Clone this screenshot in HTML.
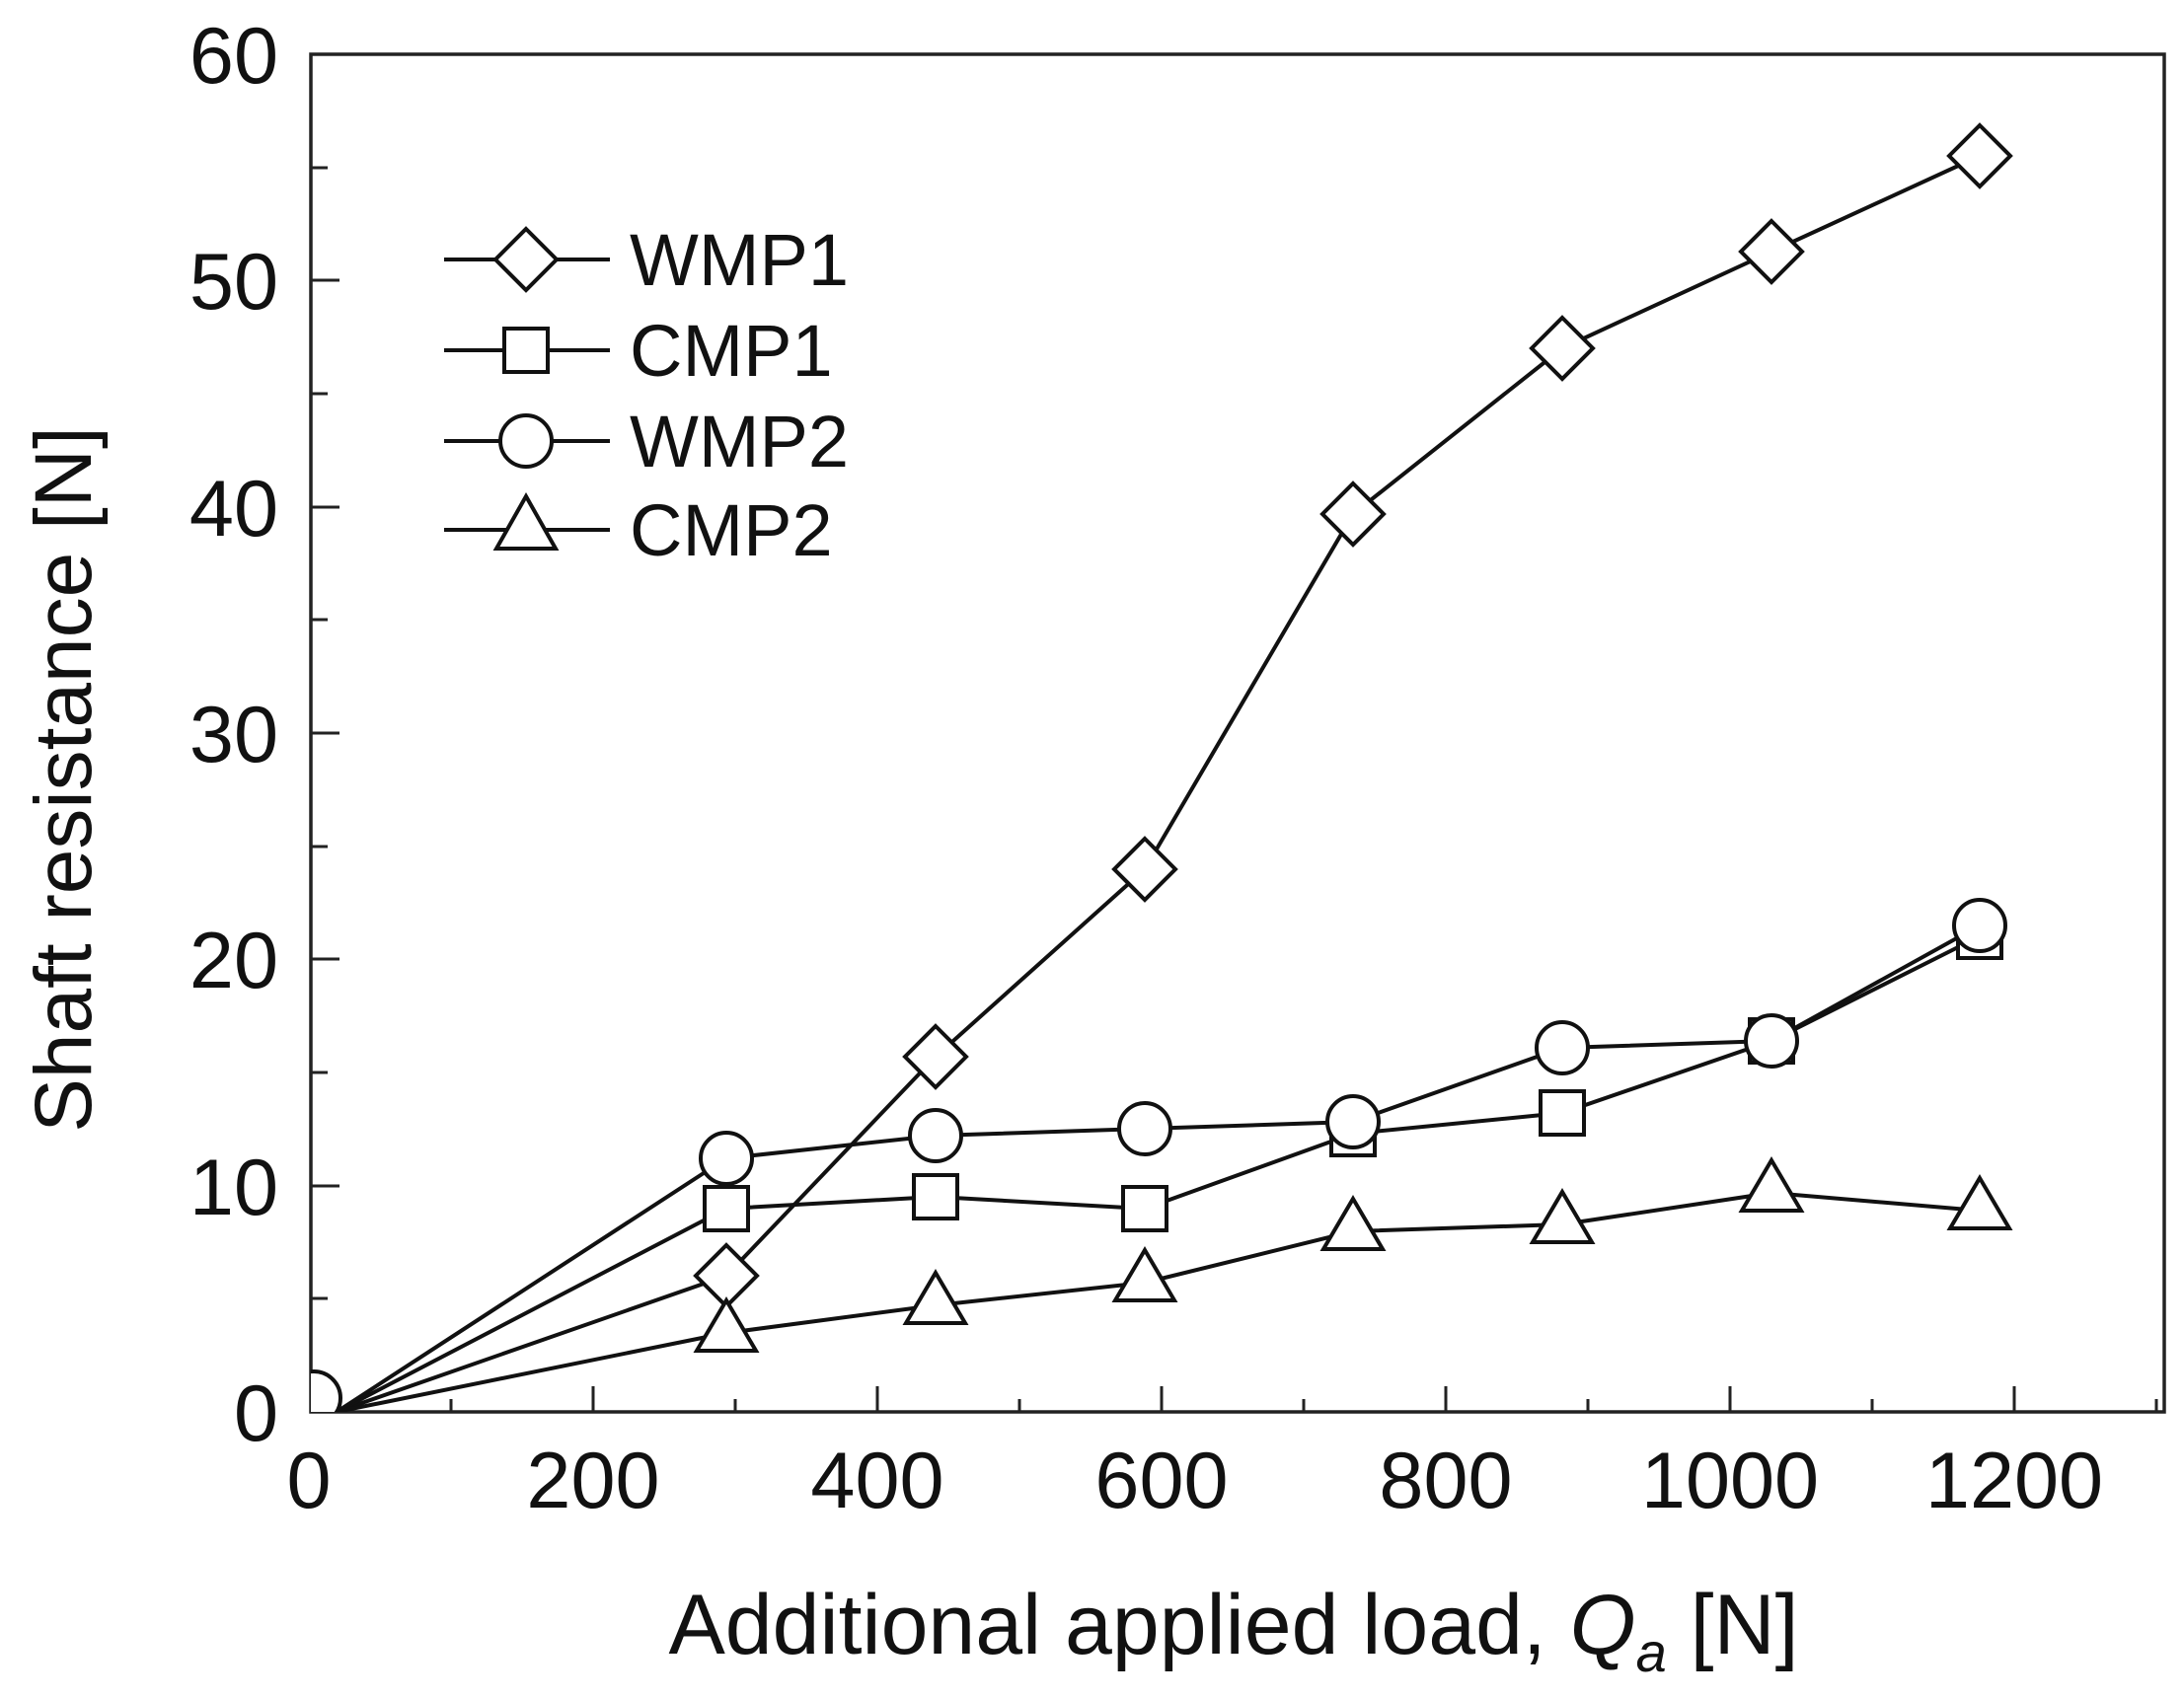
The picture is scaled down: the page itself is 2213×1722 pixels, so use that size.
<!DOCTYPE html>
<html><head><meta charset="utf-8"><style>
html,body{margin:0;padding:0;background:#fff;}
svg{display:block;}
text{font-family:"Liberation Sans",sans-serif;fill:#111;}
</style></head><body>
<svg width="2213" height="1722" viewBox="0 0 2213 1722" xmlns="http://www.w3.org/2000/svg">
<defs><clipPath id="pc"><rect x="315" y="55" width="1878" height="1376"/></clipPath></defs>
<g stroke="#222" stroke-width="3.5" fill="none">
<rect x="315" y="55" width="1878" height="1376"/>
</g>
<g stroke="#222" stroke-width="3">
<line x1="457" y1="1431" x2="457" y2="1418"/>
<line x1="601" y1="1431" x2="601" y2="1405"/>
<line x1="745" y1="1431" x2="745" y2="1418"/>
<line x1="889" y1="1431" x2="889" y2="1405"/>
<line x1="1033" y1="1431" x2="1033" y2="1418"/>
<line x1="1177" y1="1431" x2="1177" y2="1405"/>
<line x1="1321" y1="1431" x2="1321" y2="1418"/>
<line x1="1465" y1="1431" x2="1465" y2="1405"/>
<line x1="1609" y1="1431" x2="1609" y2="1418"/>
<line x1="1753" y1="1431" x2="1753" y2="1405"/>
<line x1="1897" y1="1431" x2="1897" y2="1418"/>
<line x1="2041" y1="1431" x2="2041" y2="1405"/>
<line x1="2185" y1="1431" x2="2185" y2="1418"/>
<line x1="315" y1="1316" x2="332" y2="1316"/>
<line x1="315" y1="1202" x2="344" y2="1202"/>
<line x1="315" y1="1087" x2="332" y2="1087"/>
<line x1="315" y1="972" x2="344" y2="972"/>
<line x1="315" y1="858" x2="332" y2="858"/>
<line x1="315" y1="743" x2="344" y2="743"/>
<line x1="315" y1="628" x2="332" y2="628"/>
<line x1="315" y1="514" x2="344" y2="514"/>
<line x1="315" y1="399" x2="332" y2="399"/>
<line x1="315" y1="284" x2="344" y2="284"/>
<line x1="315" y1="170" x2="332" y2="170"/>
</g>
<g font-size="81" text-anchor="end">
<text x="282" y="1460">0</text>
<text x="282" y="1231">10</text>
<text x="282" y="1001">20</text>
<text x="282" y="772">30</text>
<text x="282" y="543">40</text>
<text x="282" y="313">50</text>
<text x="282" y="84">60</text>
</g>
<g font-size="81" text-anchor="middle">
<text x="313" y="1528">0</text>
<text x="601" y="1528">200</text>
<text x="889" y="1528">400</text>
<text x="1177" y="1528">600</text>
<text x="1465" y="1528">800</text>
<text x="1753" y="1528">1000</text>
<text x="2041" y="1528">1200</text>
</g>
<text x="1250" y="1676" font-size="86" text-anchor="middle">Additional applied load, <tspan font-style="italic">Q</tspan><tspan font-style="italic" font-size="56" dy="18">a</tspan><tspan dy="-18"> [N]</tspan></text>
<text transform="translate(92,790) rotate(-90)" font-size="82" text-anchor="middle">Shaft resistance [N]</text>

<g clip-path="url(#pc)" stroke="#111" stroke-width="4" fill="#fff">
<circle cx="318" cy="1417" r="27"/>
<polyline fill="none" points="341,1431 736,1293 948,1071 1160,881 1371,521 1583,353 1795,255 2006,158"/>
<polyline fill="none" points="341,1431 736,1225 948,1213 1160,1225 1371,1149 1583,1128 1795,1055 2006,949"/>
<polyline fill="none" points="341,1431 736,1174 948,1151 1160,1144 1371,1137 1583,1062 1795,1055 2006,938"/>
<polyline fill="none" points="341,1431 736,1351 948,1323 1160,1300 1371,1248 1583,1241 1795,1209 2006,1227"/>
<g>
<polygon points="736,1262 767,1293 736,1324 705,1293"/>
<polygon points="948,1040 979,1071 948,1102 917,1071"/>
<polygon points="1160,850 1191,881 1160,912 1129,881"/>
<polygon points="1371,490 1402,521 1371,552 1340,521"/>
<polygon points="1583,322 1614,353 1583,384 1552,353"/>
<polygon points="1795,224 1826,255 1795,286 1764,255"/>
<polygon points="2006,127 2037,158 2006,189 1975,158"/>
</g>
<g>
<rect x="714" y="1203" width="44" height="44"/>
<rect x="926" y="1191" width="44" height="44"/>
<rect x="1138" y="1203" width="44" height="44"/>
<rect x="1349" y="1127" width="44" height="44"/>
<rect x="1561" y="1106" width="44" height="44"/>
<rect x="1773" y="1033" width="44" height="44"/>
<rect x="1984" y="927" width="44" height="44"/>
</g>
<g>
<circle cx="736" cy="1174" r="26"/>
<circle cx="948" cy="1151" r="26"/>
<circle cx="1160" cy="1144" r="26"/>
<circle cx="1371" cy="1137" r="26"/>
<circle cx="1583" cy="1062" r="26"/>
<circle cx="1795" cy="1055" r="26"/>
<circle cx="2006" cy="938" r="26"/>
</g>
<g>
<polygon points="736,1318 766,1369 706,1369"/>
<polygon points="948,1290 978,1341 918,1341"/>
<polygon points="1160,1267 1190,1318 1130,1318"/>
<polygon points="1371,1215 1401,1266 1341,1266"/>
<polygon points="1583,1208 1613,1259 1553,1259"/>
<polygon points="1795,1176 1825,1227 1765,1227"/>
<polygon points="2006,1194 2036,1245 1976,1245"/>
</g>
</g>

<g stroke="#111" stroke-width="4" fill="#fff">
<line x1="450" y1="263" x2="618" y2="263"/>
<polygon points="533,232 564,263 533,294 502,263"/>
<line x1="450" y1="355" x2="618" y2="355"/>
<rect x="511" y="333" width="44" height="44"/>
<line x1="450" y1="447" x2="618" y2="447"/>
<circle cx="533" cy="447" r="26"/>
<line x1="450" y1="537" x2="618" y2="537"/>
<polygon points="533,503 563,556 503,556"/>
</g>
<g font-size="74">
<text x="638" y="289">WMP1</text>
<text x="638" y="381">CMP1</text>
<text x="638" y="473">WMP2</text>
<text x="638" y="563">CMP2</text>
</g>
</svg>
</body></html>
